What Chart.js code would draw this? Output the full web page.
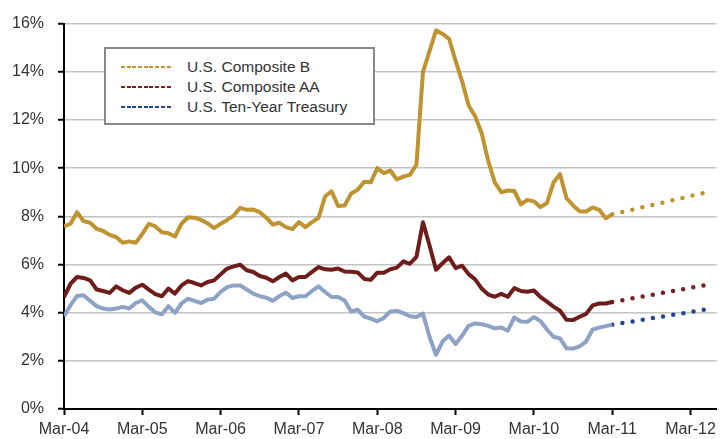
<!DOCTYPE html>
<html>
<head>
<meta charset="utf-8">
<script src="https://cdn.jsdelivr.net/npm/chart.js@4.4.1/dist/chart.umd.min.js"></script>
<style>
  html, body { margin: 0; padding: 0; background: #fff; }
  #wrap { position: relative; width: 721px; height: 439px; }
  #legend {
    position: absolute; left: 104px; top: 47px; width: 267px; height: 74px;
    border: 2px solid #888; background: #fff;
    font-family: "Liberation Sans", Arial, sans-serif; font-size: 15.5px; color: #333;
  }
  .row { position: absolute; left: 0; height: 20px; line-height: 20px; white-space: nowrap; }
  .swatch { position: absolute; left: 15px; top: 9px; width: 51px; height: 2px; }
  .lbl { position: absolute; left: 81px; top: 0; }
</style>
</head>
<body>
<div id="wrap">
  <canvas id="myChart" width="721" height="439"></canvas>
  <div id="legend"></div>
</div>
<script>
// months counted from Mar-04 (index 0) to Mar-11 (index 84)
var tickLabels = ['Mar-04','Mar-05','Mar-06','Mar-07','Mar-08','Mar-09','Mar-10','Mar-11','Mar-12'];

var compositeB = [7.58,7.69,8.17,7.80,7.73,7.48,7.39,7.23,7.14,6.90,6.96,6.90,7.27,7.69,7.58,7.34,7.30,7.16,7.69,7.96,
  7.94,7.85,7.71,7.51,7.69,7.85,8.03,8.35,8.27,8.28,8.17,7.94,7.66,7.73,7.55,7.47,7.76,7.55,7.76,7.94,
  8.82,9.04,8.43,8.45,8.95,9.10,9.43,9.41,10.00,9.79,9.90,9.53,9.65,9.72,10.14,14.00,14.85,15.72,15.57,15.37,
  14.45,13.60,12.60,12.15,11.45,10.30,9.41,9.00,9.07,9.05,8.50,8.68,8.62,8.38,8.55,9.40,9.75,8.75,8.45,8.21,
  8.20,8.37,8.27,7.92,8.08];

var compositeAA = [4.65,5.20,5.48,5.44,5.34,4.96,4.90,4.82,5.09,4.93,4.82,5.04,5.16,4.96,4.77,4.68,5.00,4.79,5.13,5.31,
  5.23,5.13,5.27,5.34,5.59,5.83,5.92,5.99,5.76,5.69,5.52,5.45,5.30,5.48,5.62,5.34,5.48,5.48,5.69,5.89,
  5.80,5.78,5.83,5.71,5.70,5.67,5.40,5.36,5.66,5.66,5.80,5.87,6.13,6.03,6.32,7.75,6.80,5.78,6.05,6.30,
  5.85,5.95,5.60,5.38,5.00,4.75,4.66,4.78,4.66,5.02,4.90,4.87,4.92,4.65,4.46,4.25,4.08,3.70,3.69,3.83,
  3.95,4.30,4.38,4.38,4.44];

var treasury10y = [3.85,4.31,4.69,4.72,4.49,4.27,4.17,4.13,4.17,4.24,4.17,4.40,4.51,4.24,4.01,3.93,4.27,3.99,4.38,4.58,
  4.49,4.40,4.54,4.58,4.86,5.06,5.13,5.13,4.96,4.79,4.68,4.62,4.49,4.69,4.83,4.61,4.68,4.68,4.90,5.09,
  4.86,4.65,4.65,4.50,4.05,4.12,3.84,3.75,3.64,3.78,4.05,4.07,3.98,3.85,3.82,3.96,3.00,2.25,2.80,3.05,
  2.70,3.05,3.45,3.55,3.52,3.45,3.35,3.38,3.25,3.80,3.63,3.62,3.82,3.65,3.30,3.00,2.93,2.52,2.51,2.60,
  2.80,3.30,3.38,3.44,3.50];

// dotted projection: Mar-11 to Jun-12
var forecastMonths = [84, 99];
var forecastB = [8.08, 9.03];
var forecastAA = [4.44, 5.18];
var forecastT = [3.50, 4.16];

var seriesNames = ['U.S. Composite B', 'U.S. Composite AA', 'U.S. Ten-Year Treasury'];
var solidColors = ['#BF9430', '#6E1C1C', '#8EA2C6'];
var dotColors = ['#BF9430', '#7A2020', '#24478C'];

function toPoints(arr) {
  return arr.map(function (v, i) { return { x: i, y: v }; });
}
function toForecast(arr) {
  return arr.map(function (v, i) { return { x: forecastMonths[i], y: v }; });
}

var solidSets = [compositeB, compositeAA, treasury10y];
var dotSets = [forecastB, forecastAA, forecastT];
var datasets = [];
for (var k = 0; k < 3; k++) {
  datasets.push({
    label: seriesNames[k],
    data: toPoints(solidSets[k]),
    borderColor: solidColors[k],
    borderWidth: 4,
    pointRadius: 0,
    tension: 0,
    borderJoinStyle: 'round'
  });
  datasets.push({
    label: seriesNames[k] + ' (projection)',
    data: toForecast(dotSets[k]),
    borderColor: dotColors[k],
    borderWidth: 4.5,
    borderDash: [0, 10.3],
    borderCapStyle: 'round',
    pointRadius: 0,
    tension: 0
  });
}

var tickFont = { family: '"Liberation Sans", Arial, sans-serif', size: 16 };

const ctx = document.getElementById('myChart').getContext('2d');
const myChart = new Chart(ctx, {
  type: 'line',
  data: { datasets: datasets },
  options: {
    responsive: false,
    animation: false,
    layout: { padding: { top: 22.7, right: 3, bottom: 0, left: 0 } },
    plugins: { legend: { display: false }, tooltip: { enabled: false } },
    scales: {
      x: {
        type: 'linear',
        min: 0,
        max: 100,
        afterFit: function (s) { s.height = 30; },
        ticks: {
          stepSize: 12,
          includeBounds: false,
          autoSkip: false,
          maxRotation: 0,
          padding: 5,
          color: '#333',
          font: tickFont,
          callback: function (v) { return tickLabels[v / 12]; }
        },
        grid: { drawOnChartArea: false, drawTicks: true, tickLength: 6, tickColor: '#000', tickWidth: 2 },
        border: { display: true, color: '#000', width: 2 }
      },
      y: {
        min: 0,
        max: 16,
        afterFit: function (s) { s.width = 64; },
        ticks: {
          stepSize: 2,
          padding: 14,
          color: '#333',
          font: tickFont,
          callback: function (v) { return v + '%'; }
        },
        grid: { color: '#C3C3C3', lineWidth: 1.5, tickLength: 6, tickColor: '#000', tickWidth: 2 },
        border: { display: true, color: '#000', width: 2 }
      }
    }
  }
});

// legend box inside the plot
var legend = document.getElementById('legend');
for (var j = 0; j < 3; j++) {
  var row = document.createElement('div');
  row.className = 'row';
  row.style.top = (8 + j * 20) + 'px';
  row.style.width = '100%';
  var sw = document.createElement('div');
  sw.className = 'swatch';
  sw.style.background = 'repeating-linear-gradient(90deg,' + dotColors[j] + ' 0 4px, transparent 4px 5.7px)';
  var tx = document.createElement('span');
  tx.className = 'lbl';
  tx.textContent = seriesNames[j];
  row.appendChild(sw);
  row.appendChild(tx);
  legend.appendChild(row);
}
</script>
</body>
</html>
